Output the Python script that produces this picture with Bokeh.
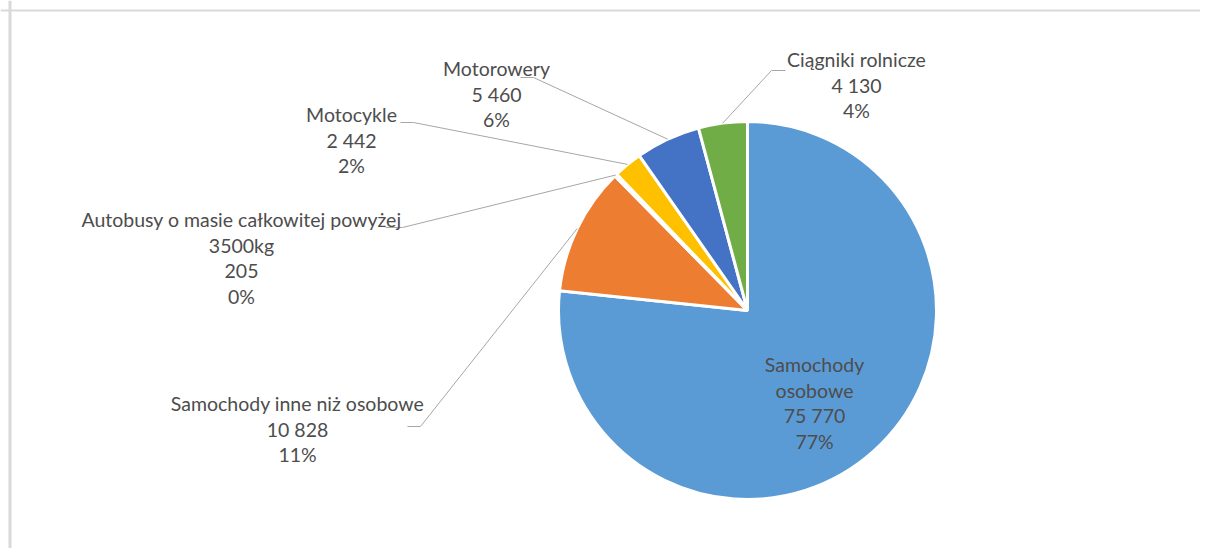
import numpy as np
from bokeh.plotting import figure
from bokeh.models import Range1d, Span, ColumnDataSource
from bokeh.core.properties import value
from bokeh.embed import file_html
from bokeh.resources import INLINE

# ---- data ----
categories = ["Samochody osobowe", "Samochody inne niż osobowe",
              "Autobusy o masie całkowitej powyżej 3500kg", "Motocykle",
              "Motorowery", "Ciągniki rolnicze"]
values = [75770, 10828, 205, 2442, 5460, 4130]
colors = ["#5B9BD5", "#ED7D31", "#A5A5A5", "#FFC000", "#4472C4", "#70AD47"]

# ---- layout (image pixel coords) ----
W, H = 1200, 548
def X(ix): return ix
def Y(iy): return H - iy

CX, CY, R = 747, 310, 189
wrap_words = [1, None, 5, None, None, None]          # break name after n words
lab_x = [814, 297, 241, 351, 496, 856]                # label centre x
lab_y0 = [364, 403, 219, 114, 68, 59]                 # first line centre y
LINE = 25.7
leader_seg = [None, (407, 426, 420, 426), (385, 227, 402, 227),
              (400, 122, 413, 122), (520, 77, 533, 77), (785, 70, 771, 70)]
FONT = "Lato"
FSIZE = "19.5px"
TXT = "#4d4d4d"

total = float(sum(values))
frac = np.array(values) / total
cum = np.concatenate([[0], np.cumsum(frac)])
start = np.pi / 2 - 2 * np.pi * cum[:-1]
end = np.pi / 2 - 2 * np.pi * cum[1:]
mid = (start + end) / 2

p = figure(width=W, height=H, x_range=Range1d(0, W), y_range=Range1d(0, H),
           output_backend="svg", toolbar_location=None, min_border=0,
           x_axis_location=None, y_axis_location=None)
p.grid.visible = False
p.outline_line_color = None
p.background_fill_color = "white"
p.border_fill_color = "white"

# frame (cropped chart area border)
p.add_layout(Span(location=Y(10), dimension="width", line_color="#d9d9d9", line_width=2))
p.add_layout(Span(location=X(9.5), dimension="height", line_color="#d9d9d9", line_width=3))

src = ColumnDataSource(dict(start=start, end=end, color=colors))
p.wedge(x=X(CX), y=Y(CY), radius=R, radius_units="screen", start_angle="start",
        end_angle="end", direction="clock", fill_color="color", line_color="white",
        line_width=3, source=src)

# leader lines
xs, ys = [], []
for i, seg in enumerate(leader_seg):
    if seg is None:
        continue
    ex = X(CX) + R * np.cos(mid[i])
    ey = Y(CY) + R * np.sin(mid[i])
    x1, y1, x2, y2 = seg
    xs.append([X(x1), X(x2), ex])
    ys.append([Y(y1), Y(y2), ey])
p.multi_line(xs, ys, line_color="#a6a6a6", line_width=1)

# labels
tx, ty, tt = [], [], []
for i, name in enumerate(categories):
    words = name.split(" ")
    if wrap_words[i]:
        lines = [" ".join(words[:wrap_words[i]]), " ".join(words[wrap_words[i]:])]
    else:
        lines = [name]
    lines.append(f"{values[i]:,}".replace(",", " "))
    lines.append(f"{round(frac[i] * 100):.0f}%")
    for k, ln in enumerate(lines):
        tx.append(X(lab_x[i]))
        ty.append(Y(lab_y0[i] + k * LINE))
        tt.append(ln)
p.text(x=tx, y=ty, text=tt, text_align="center", text_baseline="middle",
       text_font=value(FONT), text_font_size=FSIZE, text_color=TXT)

open("out.html", "w").write(file_html(p, INLINE))
